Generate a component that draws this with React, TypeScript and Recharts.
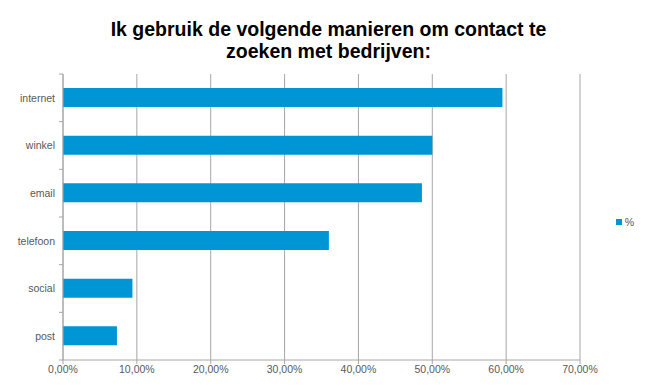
import React from "react";
import { BarChart, Bar, XAxis, YAxis, CartesianGrid, Legend } from "recharts";

const categories = ["internet", "winkel", "email", "telefoon", "social", "post"];
const percentValues = [59.5, 50.0, 48.6, 36.0, 9.4, 7.3];
const xTicks = [0, 10, 20, 30, 40, 50, 60, 70];
const seriesName = "%";
const titleLines = ["Ik gebruik de volgende manieren om contact te", "zoeken met bedrijven:"];

const data = categories.map((name, i) => ({ name, value: percentValues[i] }));

const W = 649;
const H = 392;
const MARGIN = { top: 74, right: 15, bottom: 12, left: 0 };
const Y_WIDTH = 63;
const X_HEIGHT = 20;
const LEGEND_W = 54;
const PLOT_H = H - MARGIN.top - MARGIN.bottom - X_HEIGHT;
const BAND = PLOT_H / categories.length;

const FONT = "Arial, 'Liberation Sans', sans-serif";
const TEXT = "#595959";
const AXIS = "#a6a6a6";
const BAR = "#0096d6";

const fmt = (v: number) => v.toFixed(2).replace(".", ",") + "%";

const YTick = (props: any) => {
  const { x, y, payload, index } = props;
  const ax = x + 8;
  return (
    <g>
      <line x1={ax - 4} x2={ax} y1={y - BAND / 2} y2={y - BAND / 2} stroke={AXIS} strokeWidth={1} />
      {index === categories.length - 1 && (
        <line x1={ax - 4} x2={ax} y1={y + BAND / 2} y2={y + BAND / 2} stroke={AXIS} strokeWidth={1} />
      )}
      <text x={x} y={y} dy="0.35em" textAnchor="end" fill={TEXT} fontSize={10.5} fontFamily={FONT}>
        {payload.value}
      </text>
    </g>
  );
};

const LegendContent = () => (
  <div style={{ paddingLeft: 36, display: "flex", alignItems: "center", fontFamily: FONT, fontSize: 10.5, color: TEXT }}>
    <span style={{ display: "inline-block", width: 6, height: 6, background: BAR, marginRight: 3 }} />
    <span>{seriesName}</span>
  </div>
);

export default function App() {
  return (
    <div style={{ position: "absolute", left: 0, top: 0, width: W, height: H, background: "#fff" }}>
      <div
        style={{
          position: "absolute",
          left: 8,
          top: 17.5,
          width: W - 8,
          textAlign: "center",
          fontFamily: FONT,
          fontWeight: "bold",
          fontSize: 19.5,
          lineHeight: "22px",
          color: "#000",
        }}
      >
        {titleLines.map((t) => (
          <div key={t}>{t}</div>
        ))}
      </div>
      <BarChart width={W} height={H} data={data} layout="vertical" margin={MARGIN} barSize={19}>
        <CartesianGrid horizontal={false} stroke={AXIS} strokeDasharray="" />
        <XAxis
          type="number"
          domain={[0, 70]}
          ticks={xTicks}
          tickFormatter={fmt}
          axisLine={{ stroke: AXIS }}
          tickLine={{ stroke: AXIS }}
          tickSize={4}
          height={X_HEIGHT}
          tick={{ fill: TEXT, fontSize: 10.5, fontFamily: FONT }}
          interval={0}
        />
        <YAxis
          type="category"
          dataKey="name"
          width={Y_WIDTH}
          axisLine={{ stroke: AXIS }}
          tickLine={false}
          tick={<YTick />}
          interval={0}
        />
        <Legend
          layout="vertical"
          align="right"
          verticalAlign="middle"
          width={LEGEND_W}
          wrapperStyle={{ top: 216 }}
          content={<LegendContent />}
        />
        <Bar dataKey="value" name={seriesName} fill={BAR} isAnimationActive={false} />
      </BarChart>
    </div>
  );
}
